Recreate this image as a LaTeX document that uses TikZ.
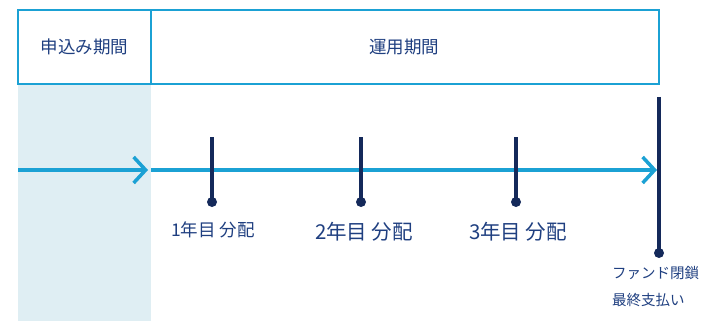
\documentclass[tikz,border=0pt]{standalone}
\usepackage{fontspec}
\newfontfamily\cjk{Noto Sans CJK JP}
\usetikzlibrary{arrows.meta}
\definecolor{cyanline}{HTML}{1BA1D4}
\definecolor{navy}{HTML}{14295A}
\definecolor{txtblue}{HTML}{1F3F80}
\definecolor{shadeblue}{HTML}{DFEEF3}
\begin{document}
\begin{tikzpicture}[x=1pt,y=-1pt,
  boxst/.style={draw=cyanline,line width=2.2pt,inner sep=0pt},
  lbl/.style={text=txtblue,font=\cjk\fontsize{17.5}{20}\selectfont,inner sep=0pt},
  lblsmall/.style={text=txtblue,font=\cjk\fontsize{17.5}{20}\selectfont,inner sep=0pt},
  lblbig/.style={text=txtblue,font=\cjk\fontsize{20.5}{24}\selectfont,inner sep=0pt},
  axis/.style={draw=cyanline,line width=3.5pt,-{Straight Barb[length=12pt,width=26pt,line width=3.5pt]}},
  tick/.style={draw=navy,line width=3.5pt},
  dotst/.style={circle,fill=navy,inner sep=0pt,minimum size=10pt}]
\useasboundingbox (0,0) rectangle (702,321);
\fill[shadeblue] (18,85) rectangle (151,321);
\draw[boxst] (18,10) rectangle (151,84);
\draw[boxst] (151,10) rectangle (659,84);
\node[lbl] (t1) at (84.5,47) {申込み期間};
\node[lbl] (t2) at (404,47) {運用期間};
\coordinate (a0) at (18,170);
\coordinate (a1) at (148,170);
\coordinate (a2) at (151,170);
\coordinate (a3) at (657,170);
\draw[axis] (a0) -- (a1);
\draw[axis] (a2) -- (a3);
\node[dotst] (d1) at (212,202) {};
\node[dotst] (d2) at (361,202) {};
\node[dotst] (d3) at (516,202) {};
\node[dotst] (d4) at (659,253) {};
\coordinate (s1) at (212,137);
\coordinate (s2) at (361,137);
\coordinate (s3) at (516,137);
\coordinate (s4) at (659,97);
\draw[tick] (s1) -- (d1.center);
\draw[tick] (s2) -- (d2.center);
\draw[tick] (s3) -- (d3.center);
\draw[tick] (s4) -- (d4.center);
\node[lblsmall] (l1) at (213,230) {1年目 分配};
\node[lblbig] (l2) at (364,232) {2年目 分配};
\node[lblbig] (l3) at (518,232) {3年目 分配};
\node[lbl,anchor=west,align=left,font=\cjk\fontsize{14.5}{27}\selectfont] (l4) at (612,287) {ファンド閉鎖\\最終支払い};
\end{tikzpicture}
\end{document}
